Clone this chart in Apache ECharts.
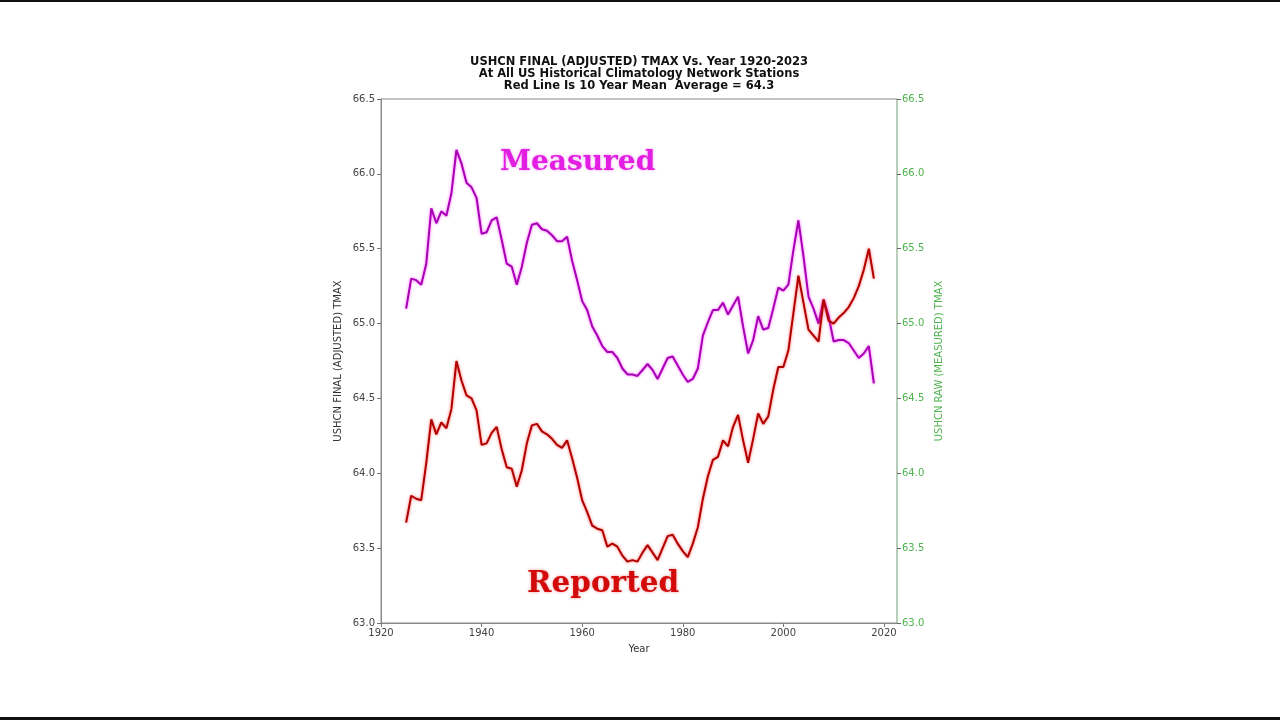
<!DOCTYPE html>
<html>
<head>
<meta charset="utf-8">
<script src="https://cdn.jsdelivr.net/npm/echarts@6/dist/echarts.min.js"></script>
<style>
    html, body { margin: 0; padding: 0; background: #fff; }
    #chart { width: 1280px; height: 720px; }
</style>
</head>
<body>
<div id="chart"></div>
<script>
// years of the 10 year running mean
const years = [1925, 1926, 1927, 1928, 1929, 1930, 1931, 1932, 1933, 1934,
    1935, 1936, 1937, 1938, 1939, 1940, 1941, 1942, 1943, 1944,
    1945, 1946, 1947, 1948, 1949, 1950, 1951, 1952, 1953, 1954,
    1955, 1956, 1957, 1958, 1959, 1960, 1961, 1962, 1963, 1964,
    1965, 1966, 1967, 1968, 1969, 1970, 1971, 1972, 1973, 1974,
    1975, 1976, 1977, 1978, 1979, 1980, 1981, 1982, 1983, 1984,
    1985, 1986, 1987, 1988, 1989, 1990, 1991, 1992, 1993, 1994,
    1995, 1996, 1997, 1998, 1999, 2000, 2001, 2002, 2003, 2004,
    2005, 2006, 2007, 2008, 2009, 2010, 2011, 2012, 2013, 2014,
    2015, 2016, 2017, 2018];

// raw (measured) tmax
const measured = [65.10, 65.30, 65.29, 65.26, 65.40, 65.77, 65.67, 65.75, 65.72, 65.87,
    66.16, 66.07, 65.94, 65.91, 65.84, 65.60, 65.61, 65.69, 65.71, 65.56,
    65.40, 65.38, 65.26, 65.38, 65.54, 65.66, 65.67, 65.63, 65.62, 65.59,
    65.55, 65.55, 65.58, 65.42, 65.29, 65.15, 65.09, 64.98, 64.92, 64.85,
    64.81, 64.81, 64.77, 64.70, 64.66, 64.66, 64.65, 64.69, 64.73, 64.69,
    64.63, 64.70, 64.77, 64.78, 64.72, 64.66, 64.61, 64.63, 64.70, 64.92,
    65.01, 65.09, 65.09, 65.14, 65.06, 65.12, 65.18, 64.98, 64.80, 64.89,
    65.05, 64.96, 64.97, 65.10, 65.24, 65.22, 65.26, 65.49, 65.69, 65.45,
    65.18, 65.10, 65.00, 65.16, 65.05, 64.88, 64.89, 64.89, 64.87, 64.82,
    64.77, 64.80, 64.85, 64.60];

// final (adjusted) tmax
const reported = [63.67, 63.85, 63.83, 63.82, 64.07, 64.36, 64.26, 64.34, 64.30, 64.43,
    64.75, 64.62, 64.52, 64.50, 64.42, 64.19, 64.20, 64.27, 64.31, 64.16,
    64.04, 64.03, 63.91, 64.02, 64.20, 64.32, 64.33, 64.28, 64.26, 64.23,
    64.19, 64.17, 64.22, 64.10, 63.97, 63.82, 63.74, 63.65, 63.63, 63.62,
    63.51, 63.53, 63.51, 63.45, 63.41, 63.42, 63.41, 63.47, 63.52, 63.47,
    63.42, 63.50, 63.58, 63.59, 63.53, 63.48, 63.44, 63.53, 63.64, 63.83,
    63.98, 64.09, 64.11, 64.22, 64.18, 64.31, 64.39, 64.22, 64.07, 64.23,
    64.40, 64.33, 64.38, 64.56, 64.71, 64.71, 64.82, 65.07, 65.32, 65.14,
    64.96, 64.92, 64.88, 65.16, 65.02, 65.00, 65.04, 65.07, 65.11, 65.17,
    65.25, 65.36, 65.50, 65.30];

const xTicks = [1920, 1940, 1960, 1980, 2000, 2020];

const titleLines = [
    'USHCN FINAL (ADJUSTED) TMAX Vs. Year 1920-2023',
    'At All US Historical Climatology Network Stations',
    'Red Line Is 10 Year Mean  Average = 64.3'
];

const pair = (ys) => years.map((y, i) => [y, ys[i]]);

const chart = echarts.init(document.getElementById('chart'));
const font = 'DejaVu Sans';
const green = '#4fb34f';

const option = {
    animation: false,
    backgroundColor: '#fff',
    title: {
        text: titleLines.join('\n'),
        left: 634,
        top: 51,
        textAlign: 'center',
        textStyle: {
            fontFamily: font,
            fontWeight: 'bold',
            fontSize: 11.5,
            lineHeight: 12,
            color: '#111'
        }
    },
    grid: {
        left: 381,
        right: 383,
        top: 99,
        bottom: 97,
        show: true,
        borderColor: '#8a8a8a',
        borderWidth: 1,
        containLabel: false
    },
    xAxis: {
        type: 'value',
        min: 1920,
        max: 2022.6,
        name: 'Year',
        nameLocation: 'middle',
        nameGap: 21,
        nameTextStyle: { fontFamily: font, fontSize: 10, color: '#333' },
        axisLine: { lineStyle: { color: '#8a8a8a' } },
        axisTick: { customValues: xTicks, length: 4, lineStyle: { color: '#777' } },
        axisLabel: {
            customValues: xTicks, fontFamily: font, fontSize: 10, color: '#444', margin: 5,
            formatter: (v) => String(v)
        },
        splitLine: { show: false }
    },
    yAxis: [
        {
            type: 'value',
            min: 63,
            max: 66.5,
            interval: 0.5,
            name: 'USHCN FINAL (ADJUSTED) TMAX',
            nameLocation: 'middle',
            nameGap: 38,
            nameTextStyle: { fontFamily: font, fontSize: 10, color: '#333' },
            axisLine: { show: true, lineStyle: { color: '#8a8a8a' } },
            axisTick: { show: true, length: 4, lineStyle: { color: '#777' } },
            axisLabel: {
                fontFamily: font, fontSize: 10, color: '#444', margin: 6,
                formatter: (v) => v.toFixed(1)
            },
            splitLine: { show: false }
        },
        {
            type: 'value',
            position: 'right',
            min: 63,
            max: 66.5,
            interval: 0.5,
            name: 'USHCN RAW (MEASURED) TMAX',
            nameLocation: 'middle',
            nameGap: 37,
            nameRotate: 90,
            nameTextStyle: { fontFamily: font, fontSize: 10, color: green },
            axisLine: { show: true, lineStyle: { color: '#a8d8a8' } },
            axisTick: { show: true, length: 4, lineStyle: { color: '#666' } },
            axisLabel: {
                fontFamily: font, fontSize: 10, color: green, margin: 5,
                formatter: (v) => v.toFixed(1)
            },
            splitLine: { show: false }
        }
    ],
    graphic: [
        { type: 'rect', left: 0, top: 0, shape: { width: 1280, height: 2 }, style: { fill: '#111' } },
        { type: 'rect', left: 0, top: 717, shape: { width: 1280, height: 3 }, style: { fill: '#111' } },
        {
            type: 'text',
            left: 500,
            top: 149,
            style: {
                text: 'Measured',
                font: 'bold 28px "DejaVu Serif"',
                fill: '#e21ee2',
                textShadowColor: 'rgba(230,80,230,0.6)',
                textShadowBlur: 3
            }
        },
        {
            type: 'text',
            left: 527,
            top: 569,
            style: {
                text: 'Reported',
                font: 'bold 29.5px "DejaVu Serif"',
                fill: '#d20a0a',
                textShadowColor: 'rgba(220,40,40,0.5)',
                textShadowBlur: 3
            }
        }
    ],
    series: [
        {
            name: 'Measured',
            type: 'line',
            yAxisIndex: 1,
            data: pair(measured),
            showSymbol: false,
            lineStyle: {
                color: '#a800b4',
                width: 2,
                shadowColor: 'rgba(255,60,255,0.8)',
                shadowBlur: 3
            }
        },
        {
            name: 'Reported',
            type: 'line',
            yAxisIndex: 0,
            data: pair(reported),
            showSymbol: false,
            lineStyle: {
                color: '#b00000',
                width: 2,
                shadowColor: 'rgba(255,40,40,0.7)',
                shadowBlur: 3
            }
        }
    ]
};

chart.setOption(option);
</script>
</body>
</html>
